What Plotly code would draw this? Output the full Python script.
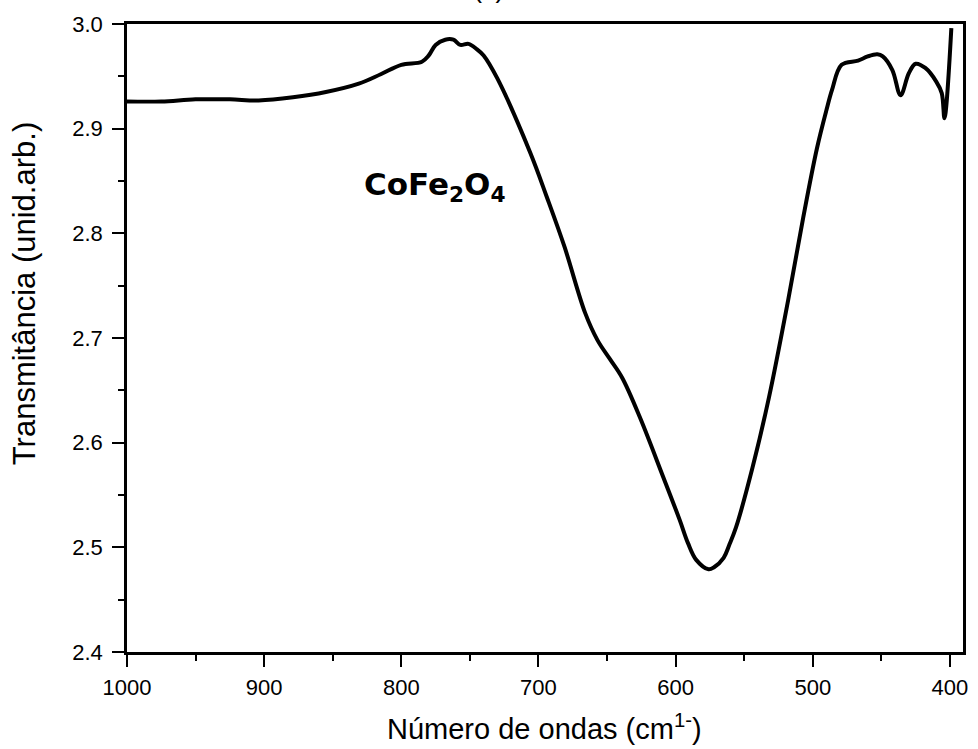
import plotly.graph_objects as go

wavenumber = [1000, 975, 950, 925, 904, 879, 855, 831, 815, 800, 785, 780, 775, 768, 762,
              757, 751, 745, 740, 730, 706, 694, 681, 666, 657, 648, 639, 626, 609, 597,
              591, 585, 576, 572, 565, 561, 556, 544, 532, 518, 507, 497, 490, 486, 479,
              467, 460, 453, 449, 442, 436, 430, 425, 418, 410, 406, 404, 399]
transmittance = [2.926, 2.926, 2.928, 2.928, 2.927, 2.930, 2.935, 2.943, 2.952, 2.961, 2.964, 2.970,
                 2.980, 2.985, 2.985, 2.980, 2.981, 2.976, 2.970, 2.948, 2.877, 2.835, 2.787, 2.724,
                 2.698, 2.680, 2.662, 2.624, 2.567, 2.526, 2.504, 2.488, 2.479, 2.481, 2.490, 2.502,
                 2.519, 2.576, 2.643, 2.736, 2.815, 2.881, 2.918, 2.937, 2.961, 2.965, 2.969, 2.971,
                 2.969, 2.956, 2.932, 2.953, 2.962, 2.958, 2.945, 2.934, 2.910, 2.996]

x_ticks = [1000, 900, 800, 700, 600, 500, 400]
y_ticks = [2.4, 2.5, 2.6, 2.7, 2.8, 2.9, 3.0]

FONT = "Liberation Sans, Arial, sans-serif"

fig = go.Figure()
fig.add_trace(go.Scatter(x=wavenumber, y=transmittance, mode="lines",
                         line=dict(color="black", width=4, shape="spline", smoothing=1.0),
                         showlegend=False, hoverinfo="skip"))

axis_common = dict(showgrid=False, zeroline=False, showline=True, linecolor="black",
                   linewidth=2.5, mirror=True, ticks="outside", ticklen=12, tickwidth=2,
                   tickcolor="black", tickfont=dict(family=FONT, size=22, color="black"))

fig.update_xaxes(range=[1000, 390.5], tickvals=x_ticks, ticktext=[str(v) for v in x_ticks],
                 minor=dict(ticks="outside", ticklen=6, tickwidth=2, tickcolor="black",
                            dtick=50, tick0=0, showgrid=False),
                 ticklabelstandoff=2,
                 **axis_common)
fig.update_yaxes(range=[2.4, 3.0], tickvals=y_ticks, ticktext=[f"{v:.1f}" for v in y_ticks],
                 minor=dict(ticks="outside", ticklen=6, tickwidth=2, tickcolor="black",
                            dtick=0.05, tick0=0, showgrid=False),
                 ticklabelstandoff=5,
                 **axis_common)

# axis titles
fig.add_annotation(x=0.499, y=-0.119, xref="paper", yref="paper", xanchor="center", yanchor="middle",
                   text="Número de ondas (cm<sup>1-</sup>)", showarrow=False,
                   font=dict(family=FONT, size=29, color="black"))
fig.add_annotation(x=-0.123, y=0.57, xref="paper", yref="paper", xanchor="center", yanchor="middle",
                   text="Transmitância (unid.arb.)", showarrow=False, textangle=-90,
                   font=dict(family=FONT, size=31, color="black"))

fig.add_annotation(x=775.6, y=2.845, xref="x", yref="y",
                   text="<b>CoFe<sub>2</sub>O<sub>4</sub></b>", showarrow=False,
                   font=dict(family="DejaVu Sans, sans-serif", size=31, color="black"))
fig.add_annotation(x=0.432, y=1.03, xref="paper", yref="paper", yanchor="bottom",
                   text="(c)", showarrow=False,
                   font=dict(family=FONT, size=27, color="black"))

fig.update_layout(width=978, height=749, margin=dict(l=127, r=10, t=24, b=97),
                  paper_bgcolor="white", plot_bgcolor="white")

fig.write_html("out.html")
